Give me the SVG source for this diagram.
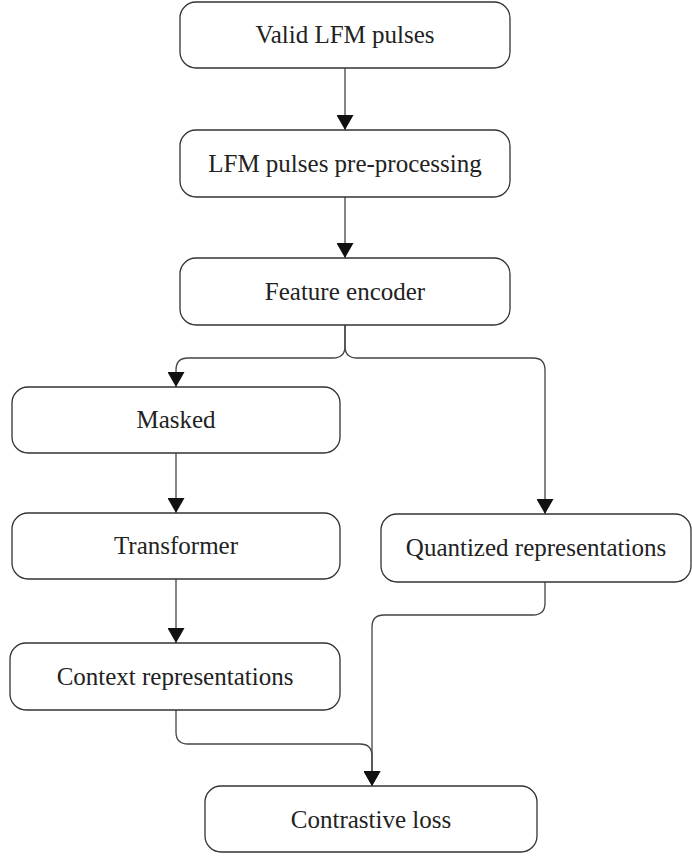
<svg xmlns="http://www.w3.org/2000/svg" width="692" height="857" viewBox="0 0 692 857">
<style>
.box{fill:#fff;stroke:#333;stroke-width:1.3}
.lbl{font-family:'Liberation Serif','Times New Roman','DejaVu Serif',serif;font-size:25px;fill:#222;text-anchor:middle}
.edge{fill:none;stroke:#444;stroke-width:1.3}
</style>
<defs>
<marker id="arr" viewBox="0 0 15 17" refX="15" refY="8.5" markerWidth="15" markerHeight="17" markerUnits="userSpaceOnUse" orient="auto">
<path d="M0,0 L15,8.5 L0,17 z" fill="#111"/>
</marker>
</defs>
<rect width="692" height="857" fill="#fff"/>
<g id="connectors">
<path class="edge" marker-end="url(#arr)" d="M345,68 V130"/>
<path class="edge" marker-end="url(#arr)" d="M345,197 V258"/>
<path class="edge" marker-end="url(#arr)" d="M345,325 V346 Q345,358 333,358 H188 Q176,358 176,370 V387"/>
<path class="edge" marker-end="url(#arr)" d="M345,325 V346 Q345,358 357,358 H533 Q545,358 545,370 V514"/>
<path class="edge" marker-end="url(#arr)" d="M176,453 V513"/>
<path class="edge" marker-end="url(#arr)" d="M176,579 V643"/>
<path class="edge" marker-end="url(#arr)" d="M176,710 V732 Q176,744 188,744 H360 Q372,744 372,756 V786"/>
<path class="edge" marker-end="url(#arr)" d="M545,582 V603 Q545,615 533,615 H384 Q372,615 372,627 V786"/>
</g>
<g id="n1"><rect class="box" x="180" y="2" width="330" height="66" rx="16"/><text class="lbl" font-family="Liberation Serif, serif" x="345" y="43">Valid LFM pulses</text></g>
<g id="n2"><rect class="box" x="180" y="130" width="330" height="67" rx="16"/><text class="lbl" font-family="Liberation Serif, serif" x="345" y="172">LFM pulses pre-processing</text></g>
<g id="n3"><rect class="box" x="180" y="258" width="330" height="67" rx="16"/><text class="lbl" font-family="Liberation Serif, serif" x="345" y="300">Feature encoder</text></g>
<g id="n4"><rect class="box" x="12" y="387" width="328" height="66" rx="16"/><text class="lbl" font-family="Liberation Serif, serif" x="176" y="428">Masked</text></g>
<g id="n5"><rect class="box" x="12" y="513" width="328" height="66" rx="16"/><text class="lbl" font-family="Liberation Serif, serif" x="176" y="554">Transformer</text></g>
<g id="n6"><rect class="box" x="381" y="514" width="310" height="68" rx="16"/><text class="lbl" font-family="Liberation Serif, serif" x="536" y="556">Quantized representations</text></g>
<g id="n7"><rect class="box" x="10" y="643" width="330" height="67" rx="16"/><text class="lbl" font-family="Liberation Serif, serif" x="175" y="685">Context representations</text></g>
<g id="n8"><rect class="box" x="205" y="786" width="332" height="66" rx="16"/><text class="lbl" font-family="Liberation Serif, serif" x="371" y="828">Contrastive loss</text></g>
</svg>
